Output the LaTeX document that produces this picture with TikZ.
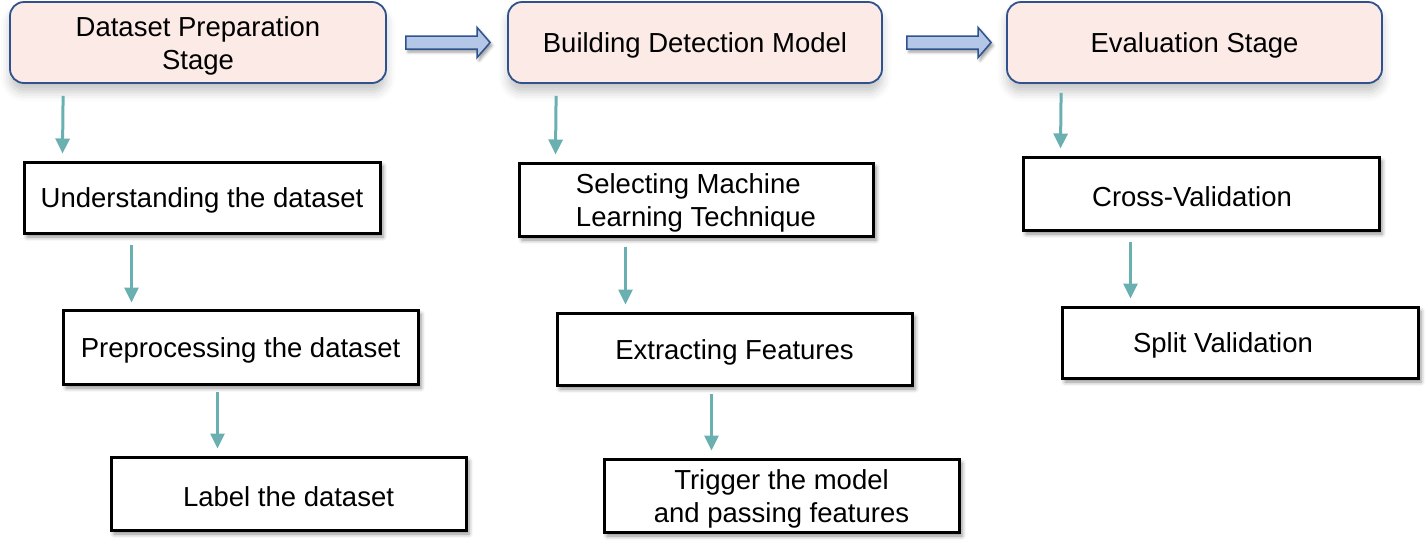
\documentclass[tikz,border=0pt]{standalone}
\usepackage{fontspec}
\setmainfont{Liberation Sans}
\usetikzlibrary{arrows.meta,calc,shadows.blur}
\definecolor{stagefill}{RGB}{251,234,229}
\definecolor{stageline}{RGB}{47,82,143}
\definecolor{arrowfill}{RGB}{180,199,231}
\definecolor{flowcol}{RGB}{106,176,176}
\newcommand\lowerstrut{\rule{0pt}{26.5pt}}
\begin{document}
\begin{tikzpicture}[x=1pt,y=-1pt,
  stagebox/.style={draw=stageline, line width=1.8pt, fill=stagefill, rounded corners=14pt,
    inner sep=0pt, align=center, font=\fontsize{27.5}{33}\selectfont,
    blur shadow={shadow xshift=0pt, shadow yshift=-9pt, shadow blur radius=9pt, shadow opacity=22}},
  stepbox/.style={draw=black, line width=3pt, fill=white, inner sep=0pt,
    font=\fontsize{27.5}{33}\selectfont,
    blur shadow={shadow xshift=3pt, shadow yshift=-4pt, shadow blur radius=4pt, shadow opacity=45}},
  flow/.style={draw=flowcol, line width=3pt, -{Triangle[width=14pt,length=15pt]}},
  blockarrow/.style={draw=stageline, line width=1.5pt, fill=arrowfill, line join=miter,
    blur shadow={shadow xshift=2pt, shadow yshift=-3pt, shadow blur radius=3pt, shadow opacity=40}}
]
\useasboundingbox (0,0) rectangle (1428,550);

% stage boxes
\node[stagebox, minimum width=376pt, minimum height=81pt] (top1) at (198,42.5) {\lowerstrut Dataset Preparation\\Stage};
\node[stagebox, minimum width=374pt, minimum height=81pt] (top2) at (695,42.5) {\lowerstrut Building Detection Model};
\node[stagebox, minimum width=375pt, minimum height=81pt] (top3) at (1194.5,42.5) {\lowerstrut Evaluation Stage};

% step boxes
\node[stepbox, minimum width=356pt, minimum height=71pt] (u1) at (202,197.5) {\lowerstrut Understanding the dataset};
\node[stepbox, minimum width=355pt, minimum height=74pt] (p1) at (240.5,347) {\lowerstrut Preprocessing the dataset};
\node[stepbox, minimum width=355pt, minimum height=73pt] (l1) at (288.5,493.5) {\lowerstrut Label the dataset};

\node[stepbox, align=left, minimum width=354pt, minimum height=73pt] (s2) at (696,199.5) {\lowerstrut Selecting Machine\\Learning Technique};
\node[stepbox, minimum width=355pt, minimum height=72pt] (e2) at (734.5,349) {\lowerstrut Extracting Features};
\node[stepbox, align=center, minimum width=355pt, minimum height=73pt] (t2) at (781.5,495.5) {\lowerstrut Trigger the model\\and passing features};

\node[stepbox, minimum width=356pt, minimum height=73pt] (c3) at (1201,193.5) {\lowerstrut Cross-Validation\hspace*{18pt}};
\node[stepbox, minimum width=356pt, minimum height=71pt] (v3) at (1240,342.5) {\lowerstrut Split Validation\hspace*{34pt}};

% block arrows between stages
\coordinate (a1s) at ([xshift=19pt]top1.east);
\coordinate (a1e) at ([xshift=-17pt]top2.west);
\coordinate (a2s) at ([xshift=24pt]top2.east);
\coordinate (a2e) at ([xshift=-15pt]top3.west);
\draw[blockarrow] ($(a1s)+(0,-6.5)$) -- ($(a1e)+(-13,-6.5)$) -- ($(a1e)+(-13,-15)$) -- (a1e)
  -- ($(a1e)+(-13,15)$) -- ($(a1e)+(-13,6.5)$) -- ($(a1s)+(0,6.5)$) -- cycle;
\draw[blockarrow] ($(a2s)+(0,-6.5)$) -- ($(a2e)+(-13,-6.5)$) -- ($(a2e)+(-13,-15)$) -- (a2e)
  -- ($(a2e)+(-13,15)$) -- ($(a2e)+(-13,6.5)$) -- ($(a2s)+(0,6.5)$) -- cycle;

% flow arrows
\draw[flow] ([xshift=54pt,yshift=-12pt]top1.south west) -- ([xshift=40pt,yshift=7pt]u1.north west);
\draw[flow] ([xshift=109pt,yshift=-10pt]u1.south west) -- ([xshift=70pt,yshift=6pt]p1.north west);
\draw[flow] ([xshift=156pt,yshift=-6pt]p1.south west) -- ([xshift=108pt,yshift=7pt]l1.north west);

\draw[flow] ([xshift=49pt,yshift=-12pt]top2.south west) -- ([xshift=38pt,yshift=7pt]s2.north west);
\draw[flow] ([xshift=108pt,yshift=-9pt]s2.south west) -- ([xshift=70pt,yshift=7pt]e2.north west);
\draw[flow] ([xshift=156pt,yshift=-7pt]e2.south west) -- ([xshift=109pt,yshift=7pt]t2.north west);

\draw[flow] ([xshift=55pt,yshift=-9pt]top3.south west) -- ([xshift=39pt,yshift=7pt]c3.north west);
\draw[flow] ([xshift=109pt,yshift=-10pt]c3.south west) -- ([xshift=70pt,yshift=7pt]v3.north west);
\end{tikzpicture}
\end{document}
